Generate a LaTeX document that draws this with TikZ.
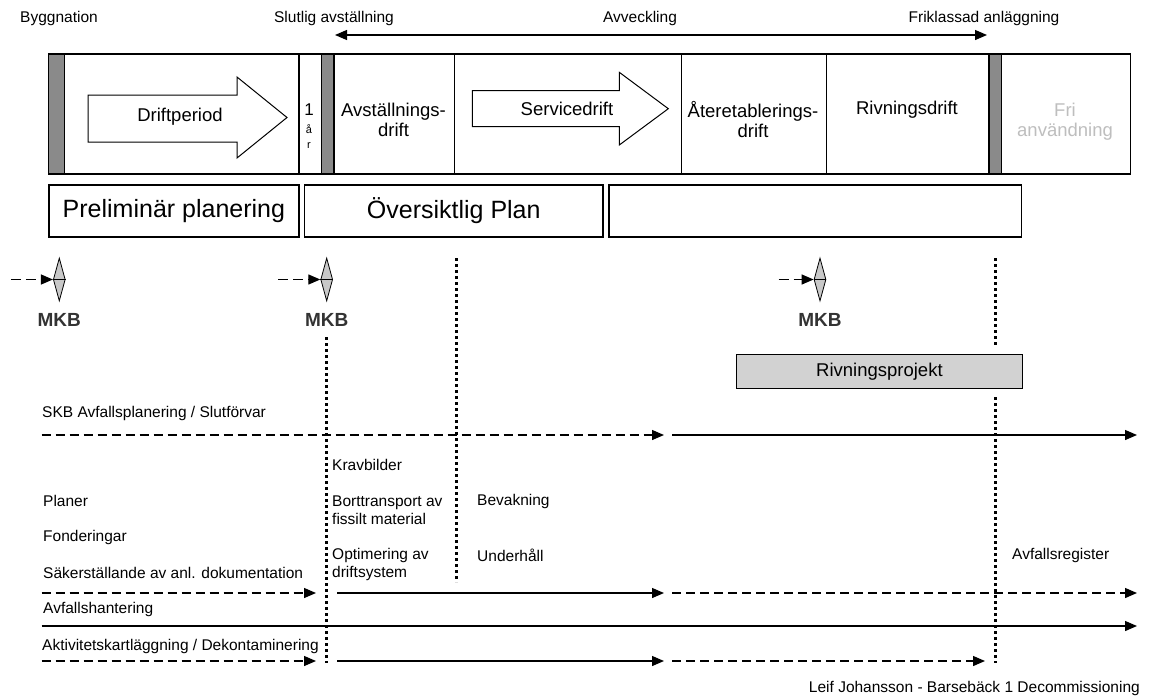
\documentclass[tikz,border=0pt]{standalone}
\usepackage{fontspec}
\setmainfont{Liberation Sans}
\usepackage{xcolor}
\usetikzlibrary{arrows.meta, positioning, shapes.geometric}

\definecolor{bargray}{HTML}{8A8A8A}
\definecolor{diagray}{HTML}{C8C8C8}
\definecolor{projgray}{HTML}{D2D2D2}
\definecolor{frigray}{HTML}{BEBEBE}

\begin{document}
\begin{tikzpicture}[x=1pt, y=-1pt,
    lbl/.style={font=\fontsize{15.5}{18}\selectfont, inner sep=0pt},
    boxlbl/.style={font=\fontsize{18.5}{20}\selectfont, inner sep=0pt, align=center},
    phase/.style={draw, line width=1.4pt, anchor=north west, minimum height=120pt, inner sep=0pt},
    plan/.style={draw, line width=1.2pt, anchor=north west, minimum height=52pt, inner sep=0pt,
        font=\fontsize{25}{28}\selectfont},
    mkb/.style={diamond, draw, fill=diagray, line width=0.8pt, minimum width=12pt,
        minimum height=43pt, inner sep=0pt},
    mkbtxt/.style={font=\fontsize{19}{20}\selectfont\bfseries, text=black!80, inner sep=0pt},
    flow/.style={line width=1.3pt, -{Triangle[length=12pt, width=10pt]}},
    dflow/.style={flow, dash pattern=on 9pt off 5pt},
    vdots/.style={line width=3pt, dash pattern=on 3pt off 3pt}]

    \useasboundingbox (0,0) rectangle (1151,699);

    % Top labels
    \node[lbl] (bygg) at (59,18) {Byggnation};
    \node[lbl] (slut) at (334,18) {Slutlig avställning};
    \node[lbl] (avv) at (640,18) {Avveckling};
    \node[lbl] (frikl) at (984,18) {Friklassad anläggning};
    \coordinate (avvL) at (335,35);
    \coordinate (avvR) at (987,35);
    \draw[line width=1.3pt, {Triangle[length=12pt, width=10pt]}-{Triangle[length=12pt, width=10pt]}] (avvL) -- (avvR);

    % Phase band
    \foreach \x/\w/\n/\f in {47.5/16.5/barA/bargray, 64/234.3/drift/white, 298.3/22.4/oneyr/white,
        320.7/12.6/barB/bargray, 333.3/120.7/avst/white, 454/227/serv/white, 681/144.7/ater/white,
        825.7/162.6/rivn/white, 988.3/12.4/barC/bargray, 1000.7/129.3/fri/white}
        \node[phase, fill=\f, minimum width=\w pt] (\n) at (\x,53.3) {};

    % Big arrows
    \draw[line width=1pt, fill=white] (88,95) -- (237,95) -- (237,77) -- (287,117.5)
        -- (237,158) -- (237,142) -- (88,142) -- cycle;
    \draw[line width=1pt, fill=white] (472.3,90.7) -- (619.3,90.7) -- (619.3,72.3) -- (668.3,108.7)
        -- (619.3,145) -- (619.3,126.7) -- (472.3,126.7) -- cycle;

    % Phase texts
    \node[boxlbl] (tDrift) at (180,117) {Driftperiod};
    \node[font=\fontsize{17}{18}\selectfont, inner sep=0pt] (tOne) at (309,110) {1};
    \node[font=\fontsize{11}{12}\selectfont, inner sep=0pt] (tAa) at (309,129) {å};
    \node[font=\fontsize{11}{12}\selectfont, inner sep=0pt] (tR) at (309,146) {r};
    \node[boxlbl] (tAvst) at (393.5,120) {Avställnings-\\drift};
    \node[boxlbl] (tServ) at (567,109) {Servicedrift};
    \node[boxlbl] (tAter) at (753,120) {Återetablerings-\\drift};
    \node[boxlbl] (tRivn) at (907,110) {Rivningsdrift};
    \node[boxlbl, text=frigray] (tFri) at (1065,121.7) {Fri\\användning};

    % Planning boxes
    \node[plan, minimum width=250pt] (prelim) at (48.3,184.3) {Preliminär planering};
    \node[plan, minimum width=298.3pt] (overs) at (304,184.3) {Översiktlig Plan};
    \node[plan, minimum width=412.7pt] (slutplan) at (608.3,184.3) {};

    % MKB milestones
    \node[mkb] (mkbA) at (59.3,279.5) {};
    \node[mkb] (mkbB) at (326.7,279.5) {};
    \node[mkb] (mkbC) at (820,279.5) {};
    \foreach \n/\d in {mkbA/42, mkbB/42, mkbC/35} {
        \draw[line width=0.8pt] (\n.west) -- (\n.east);
        \draw[flow, dash pattern=on 10pt off 5pt] ([xshift=-\d pt]\n.west) -- (\n.west);
        \node[mkbtxt, below=12pt of \n] (\n t) {MKB};
    }

    % Dotted milestones
    \draw[vdots] (326.7,337) -- (326.7,663);
    \draw[vdots] (456.7,258) -- (456.7,582);
    \draw[vdots] (995,258) -- (995,347);
    \draw[vdots] (995,397) -- (995,663);

    \node[draw, line width=1.2pt, fill=projgray, anchor=north west, minimum width=285.7pt,
        minimum height=33.7pt, inner sep=0pt, font=\fontsize{18.5}{20}\selectfont] (rivproj)
        at (736,354) {Rivningsprojekt};

    % Activity rows
    \foreach \y/\n in {435/skb, 593/sak, 626/avf, 661/akt} {
        \coordinate (\n0) at (41.7,\y);
        \coordinate (\n1) at (316,\y);
        \coordinate (\n2) at (337,\y);
        \coordinate (\n3) at (664,\y);
        \coordinate (\n4) at (672,\y);
        \coordinate (\n5) at (985,\y);
        \coordinate (\n6) at (1137,\y);
    }
    \draw[dflow] (skb0) -- (skb3);
    \draw[flow] (skb4) -- (skb6);
    \draw[dflow] (sak0) -- (sak1);
    \draw[flow] (sak2) -- (sak3);
    \draw[dflow] (sak4) -- (sak6);
    \draw[flow] (avf0) -- (avf6);
    \draw[dflow] (akt0) -- (akt1);
    \draw[flow] (akt2) -- (akt3);
    \draw[dflow] (akt4) -- (akt5);

    % Row texts
    \node[lbl, anchor=west] (skbtxt) at (42,413) {SKB Avfallsplanering / Slutförvar};
    \node[lbl, anchor=west] (krav) at (332,465) {Kravbilder};
    \node[lbl, anchor=west] (planer) at (43,501) {Planer};
    \node[lbl, anchor=west, align=left] (bort) at (332,510) {Borttransport av\\fissilt material};
    \node[lbl, anchor=west] (bevak) at (477,501) {Bevakning};
    \node[lbl, anchor=west] (fond) at (43,537) {Fonderingar};
    \node[lbl, anchor=west, align=left] (optim) at (332,564) {Optimering av\\driftsystem};
    \node[lbl, anchor=west] (underh) at (477,555) {Underhåll};
    \node[lbl, anchor=west] (saker) at (43,573) {Säkerställande av anl. dokumentation};
    \node[lbl, anchor=west] (avfreg) at (1012,555) {Avfallsregister};
    \node[lbl, anchor=west] (avfh) at (43,609) {Avfallshantering};
    \node[lbl, anchor=west] (aktiv) at (42,646) {Aktivitetskartläggning / Dekontaminering};
    \node[lbl, anchor=east] (credit) at (1140,688) {Leif Johansson - Barsebäck 1 Decommissioning};
\end{tikzpicture}
\end{document}
